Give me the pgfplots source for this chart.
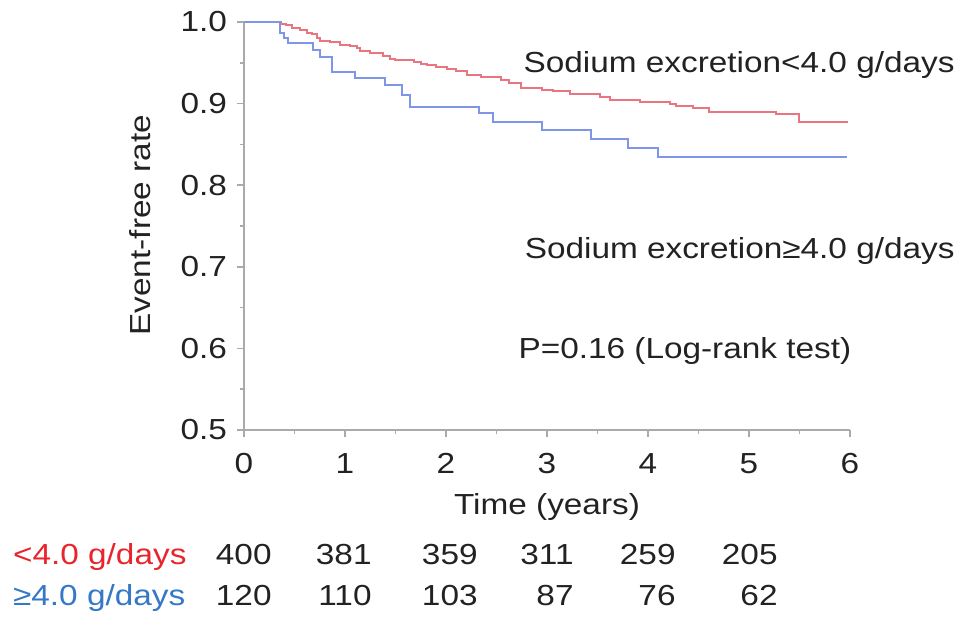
\documentclass[border=0pt]{standalone}
\usepackage{fontspec}
\setmainfont{Liberation Sans}[FakeStretch=1.15]
\usepackage{pgfplots}
\pgfplotsset{compat=1.18}

\definecolor{redcurve}{HTML}{E97580}
\definecolor{bluecurve}{HTML}{7F95EA}
\definecolor{redtext}{HTML}{E8242C}
\definecolor{bluetext}{HTML}{3478C6}
\definecolor{axisgray}{HTML}{AAAAAA}
\definecolor{txt}{HTML}{222222}

\begin{document}
\fontsize{14.5}{17}\selectfont
\begin{tikzpicture}
\useasboundingbox (-122pt,-97.5pt) rectangle (362.5pt,215pt);
\begin{axis}[
  at={(0,0)}, anchor=south west,
  scale only axis, width=303pt, height=204pt,
  xmin=0, xmax=6, ymin=0.5, ymax=1.0,
  axis x line*=bottom, axis y line*=left,
  axis line style={axisgray, line width=0.8pt},
  every tick/.style={axisgray, line width=0.8pt},
  tick align=outside,
  major tick length=3.5pt, minor tick length=2pt,
  xtick={0,1,2,3,4,5,6}, minor x tick num=1,
  ytick={0.5,0.6,0.7,0.8,0.9,1.0}, minor y tick num=1,
  /pgf/number format/assume math mode=true,
  yticklabel style={/pgf/number format/.cd, fixed, fixed zerofill, precision=1},
  ticklabel style={text=txt, font=\fontsize{14.5}{17}\selectfont},
  xticklabel style={yshift=-3pt},
  clip=false,
]
% Kaplan-Meier, <4.0 g/days
\addplot[const plot mark left, redcurve, line width=1pt] coordinates {
(0,1.0) (0.37,0.998) (0.42,0.996) (0.48,0.993) (0.55,0.990) (0.62,0.987)
(0.67,0.985) (0.72,0.980) (0.75,0.977) (0.85,0.975) (0.95,0.972) (1.05,0.970)
(1.12,0.968) (1.15,0.964) (1.25,0.962) (1.38,0.958) (1.45,0.955) (1.50,0.953)
(1.68,0.951) (1.75,0.948) (1.81,0.947) (1.90,0.945) (2.01,0.943) (2.10,0.940)
(2.21,0.935) (2.35,0.932) (2.54,0.929) (2.62,0.925) (2.74,0.919) (2.95,0.917)
(3.06,0.915) (3.23,0.912) (3.52,0.9085) (3.62,0.905) (3.92,0.9016) (4.22,0.899)
(4.28,0.897) (4.45,0.894) (4.60,0.890) (5.27,0.887) (5.50,0.877) (5.98,0.877)
};
% Kaplan-Meier, >=4.0 g/days
\addplot[const plot mark left, bluecurve, line width=1pt] coordinates {
(0,1.0) (0.36,0.986) (0.40,0.980) (0.44,0.974) (0.68,0.966) (0.75,0.957)
(0.87,0.939) (1.10,0.931) (1.40,0.923) (1.56,0.911) (1.64,0.896) (2.33,0.888)
(2.47,0.878) (2.95,0.868) (3.44,0.857) (3.80,0.846) (4.10,0.834) (5.97,0.834)
};

\node[anchor=base east, inner sep=0, text=txt] at (axis cs:7.04,0.9384) {Sodium excretion<4.0 g/days};
\node[anchor=base east, inner sep=0, text=txt] at (axis cs:7.04,0.7096) {Sodium excretion≥4.0 g/days};
\node[anchor=base east, inner sep=0, text=txt] at (axis cs:6.017,0.5882) {P=0.16 (Log-rank test)};

\node[rotate=90, text=txt] at (axis cs:-1.03,0.751) {Event-free rate};
\node[anchor=base, inner sep=0, text=txt] at (axis cs:3,0.397) {Time (years)};

% numbers at risk
\node[anchor=base west, inner sep=0, text=redtext] at (axis cs:-2.29,0.3346) {<4.0 g/days};
\node[anchor=base west, inner sep=0, text=bluetext] at (axis cs:-2.29,0.2855) {≥4.0 g/days};
\node[anchor=base east, inner sep=0, text=txt] at (axis cs:0.277,0.3346) {400};
\node[anchor=base east, inner sep=0, text=txt] at (axis cs:1.267,0.3346) {381};
\node[anchor=base east, inner sep=0, text=txt] at (axis cs:2.317,0.3346) {359};
\node[anchor=base east, inner sep=0, text=txt] at (axis cs:3.267,0.3346) {311};
\node[anchor=base east, inner sep=0, text=txt] at (axis cs:4.277,0.3346) {259};
\node[anchor=base east, inner sep=0, text=txt] at (axis cs:5.287,0.3346) {205};
\node[anchor=base east, inner sep=0, text=txt] at (axis cs:0.277,0.2855) {120};
\node[anchor=base east, inner sep=0, text=txt] at (axis cs:1.267,0.2855) {110};
\node[anchor=base east, inner sep=0, text=txt] at (axis cs:2.317,0.2855) {103};
\node[anchor=base east, inner sep=0, text=txt] at (axis cs:3.267,0.2855) {87};
\node[anchor=base east, inner sep=0, text=txt] at (axis cs:4.277,0.2855) {76};
\node[anchor=base east, inner sep=0, text=txt] at (axis cs:5.287,0.2855) {62};
\end{axis}
\end{tikzpicture}
\end{document}
